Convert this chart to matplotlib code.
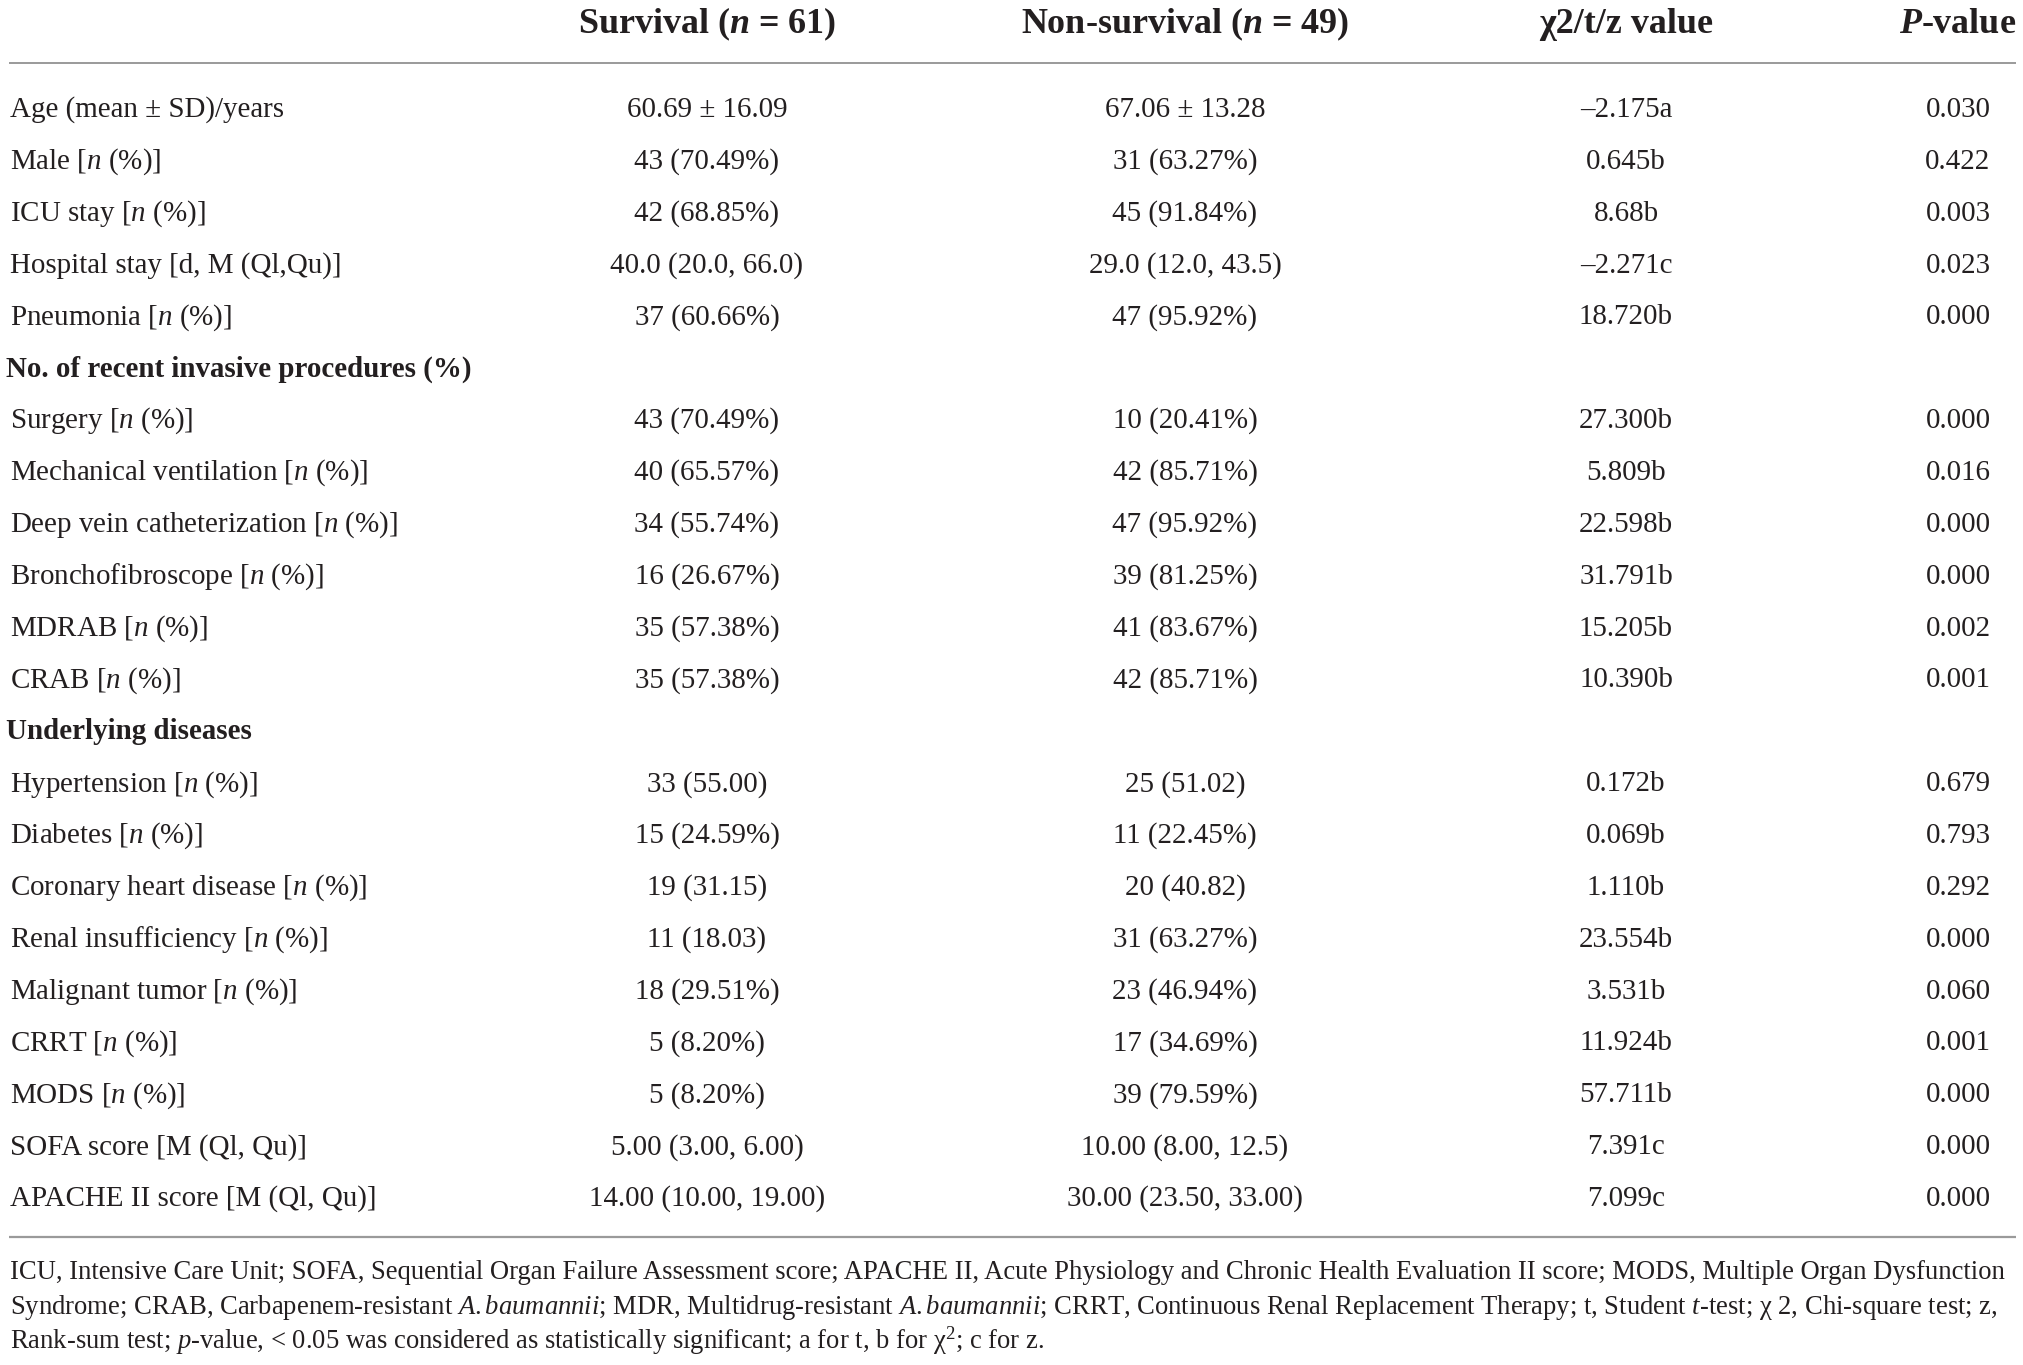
#!/usr/bin/env python3
"""
Table 1 style figure: survival vs non-survival characteristics.
Drawn as text on a pixel-sized axes so it lines up with the original.
"""

import matplotlib
matplotlib.use("Agg")
import matplotlib.pyplot as plt

plt.rcParams["font.family"] = ["Liberation Serif", "DejaVu Serif"]
plt.rcParams["mathtext.fontset"] = "custom"
plt.rcParams["mathtext.rm"] = "Liberation Serif"
plt.rcParams["mathtext.it"] = "Liberation Serif:italic"
plt.rcParams["mathtext.bf"] = "Liberation Serif:bold"
plt.rcParams["mathtext.bfit"] = "Liberation Serif:bold:italic"

# ---- table data (None = section heading row) ----
headers = [r"Survival ($\mathbfit{n}$ = 61)", r"Non-survival ($\mathbfit{n}$ = 49)",
           "χ2/t/z value", r"$\mathbfit{P}$-value"]

labels = [
    "Age (mean ± SD)/years",
    r"Male [$\mathit{n}$ (%)]",
    r"ICU stay [$\mathit{n}$ (%)]",
    "Hospital stay [d, M (Ql,Qu)]",
    r"Pneumonia [$\mathit{n}$ (%)]",
    "No. of recent invasive procedures (%)",
    r"Surgery [$\mathit{n}$ (%)]",
    r"Mechanical ventilation [$\mathit{n}$ (%)]",
    r"Deep vein catheterization [$\mathit{n}$ (%)]",
    r"Bronchofibroscope [$\mathit{n}$ (%)]",
    r"MDRAB [$\mathit{n}$ (%)]",
    r"CRAB [$\mathit{n}$ (%)]",
    "Underlying diseases",
    r"Hypertension [$\mathit{n}$ (%)]",
    r"Diabetes [$\mathit{n}$ (%)]",
    r"Coronary heart disease [$\mathit{n}$ (%)]",
    r"Renal insufficiency [$\mathit{n}$ (%)]",
    r"Malignant tumor [$\mathit{n}$ (%)]",
    r"CRRT [$\mathit{n}$ (%)]",
    r"MODS [$\mathit{n}$ (%)]",
    "SOFA score [M (Ql, Qu)]",
    "APACHE II score [M (Ql, Qu)]",
]

survival = [
    "60.69 ± 16.09", "43 (70.49%)", "42 (68.85%)", "40.0 (20.0, 66.0)", "37 (60.66%)",
    None,
    "43 (70.49%)", "40 (65.57%)", "34 (55.74%)", "16 (26.67%)", "35 (57.38%)", "35 (57.38%)",
    None,
    "33 (55.00)", "15 (24.59%)", "19 (31.15)", "11 (18.03)", "18 (29.51%)", "5 (8.20%)",
    "5 (8.20%)", "5.00 (3.00, 6.00)", "14.00 (10.00, 19.00)",
]

non_survival = [
    "67.06 ± 13.28", "31 (63.27%)", "45 (91.84%)", "29.0 (12.0, 43.5)", "47 (95.92%)",
    None,
    "10 (20.41%)", "42 (85.71%)", "47 (95.92%)", "39 (81.25%)", "41 (83.67%)", "42 (85.71%)",
    None,
    "25 (51.02)", "11 (22.45%)", "20 (40.82)", "31 (63.27%)", "23 (46.94%)", "17 (34.69%)",
    "39 (79.59%)", "10.00 (8.00, 12.5)", "30.00 (23.50, 33.00)",
]

stat_value = [
    "–2.175a", "0.645b", "8.68b", "–2.271c", "18.720b",
    None,
    "27.300b", "5.809b", "22.598b", "31.791b", "15.205b", "10.390b",
    None,
    "0.172b", "0.069b", "1.110b", "23.554b", "3.531b", "11.924b",
    "57.711b", "7.391c", "7.099c",
]

p_value = [
    "0.030", "0.422", "0.003", "0.023", "0.000",
    None,
    "0.000", "0.016", "0.000", "0.000", "0.002", "0.001",
    None,
    "0.679", "0.793", "0.292", "0.000", "0.060", "0.001",
    "0.000", "0.000", "0.000",
]

footnote = [
    "ICU, Intensive Care Unit; SOFA, Sequential Organ Failure Assessment score; APACHE II, "
    "Acute Physiology and Chronic Health Evaluation II score; MODS, Multiple Organ Dysfunction",
    r"Syndrome; CRAB, Carbapenem-resistant $\mathit{A.baumannii}$; MDR, Multidrug-resistant "
    r"$\mathit{A.baumannii}$; CRRT, Continuous Renal Replacement Therapy; t, Student "
    r"$\mathit{t}$-test; χ 2, Chi-square test; z,",
    r"Rank-sum test; $\mathit{p}$-value, < 0.05 was considered as statistically significant; "
    r"a for t, b for χ$^{2}$; c for z.",
]

# ---- layout (pixels) ----
W, H = 2023, 1365
col_x = [707, 1185, 1626, 1958]
label_x = 10
section_x = 6
header_y = 33
first_row_y = 117
row_step = 51.86
rule_top = 63
rule_bottom = 1237
foot_y = [1279, 1314, 1349]

ink = "#231f20"
rule_color = "#9a9a9a"
px = 72 / 100  # pt per pixel at dpi 100
body_fs = 29 * px
head_fs = 36 * px

fig = plt.figure(figsize=(W / 100, H / 100), dpi=100)
ax = fig.add_axes([0, 0, 1, 1])
ax.set_xlim(0, W)
ax.set_ylim(H, 0)
ax.axis("off")

for x, h in zip(col_x, headers):
    ax.text(x, header_y, h, ha="center", va="baseline", fontsize=head_fs,
            fontweight="bold", color=ink)

ax.plot([9, 2016], [rule_top, rule_top], color=rule_color, lw=1.4, solid_capstyle="butt")
ax.plot([9, 2016], [rule_bottom, rule_bottom], color=rule_color, lw=1.6, solid_capstyle="butt")

for i, lab in enumerate(labels):
    y = first_row_y + i * row_step
    if survival[i] is None:
        ax.text(section_x, y, lab, ha="left", va="baseline", fontsize=body_fs,
                fontweight="bold", color=ink)
        continue
    ax.text(label_x, y, lab, ha="left", va="baseline", fontsize=body_fs, color=ink)
    for x, col in zip(col_x, [survival, non_survival, stat_value, p_value]):
        ax.text(x, y, col[i], ha="center", va="baseline", fontsize=body_fs, color=ink)

# footnote: size the first line to the table width
fig.canvas.draw()
renderer = fig.canvas.get_renderer()
trial = ax.text(label_x, foot_y[0], footnote[0], fontsize=20, va="baseline")
w = trial.get_window_extent(renderer).width
trial.remove()
foot_fs = 20 * (2005 - label_x) / w

for y, line in zip(foot_y, footnote):
    ax.text(label_x, y, line, ha="left", va="baseline", fontsize=foot_fs, color=ink)

fig.savefig("out.png", dpi=100, facecolor="white")
